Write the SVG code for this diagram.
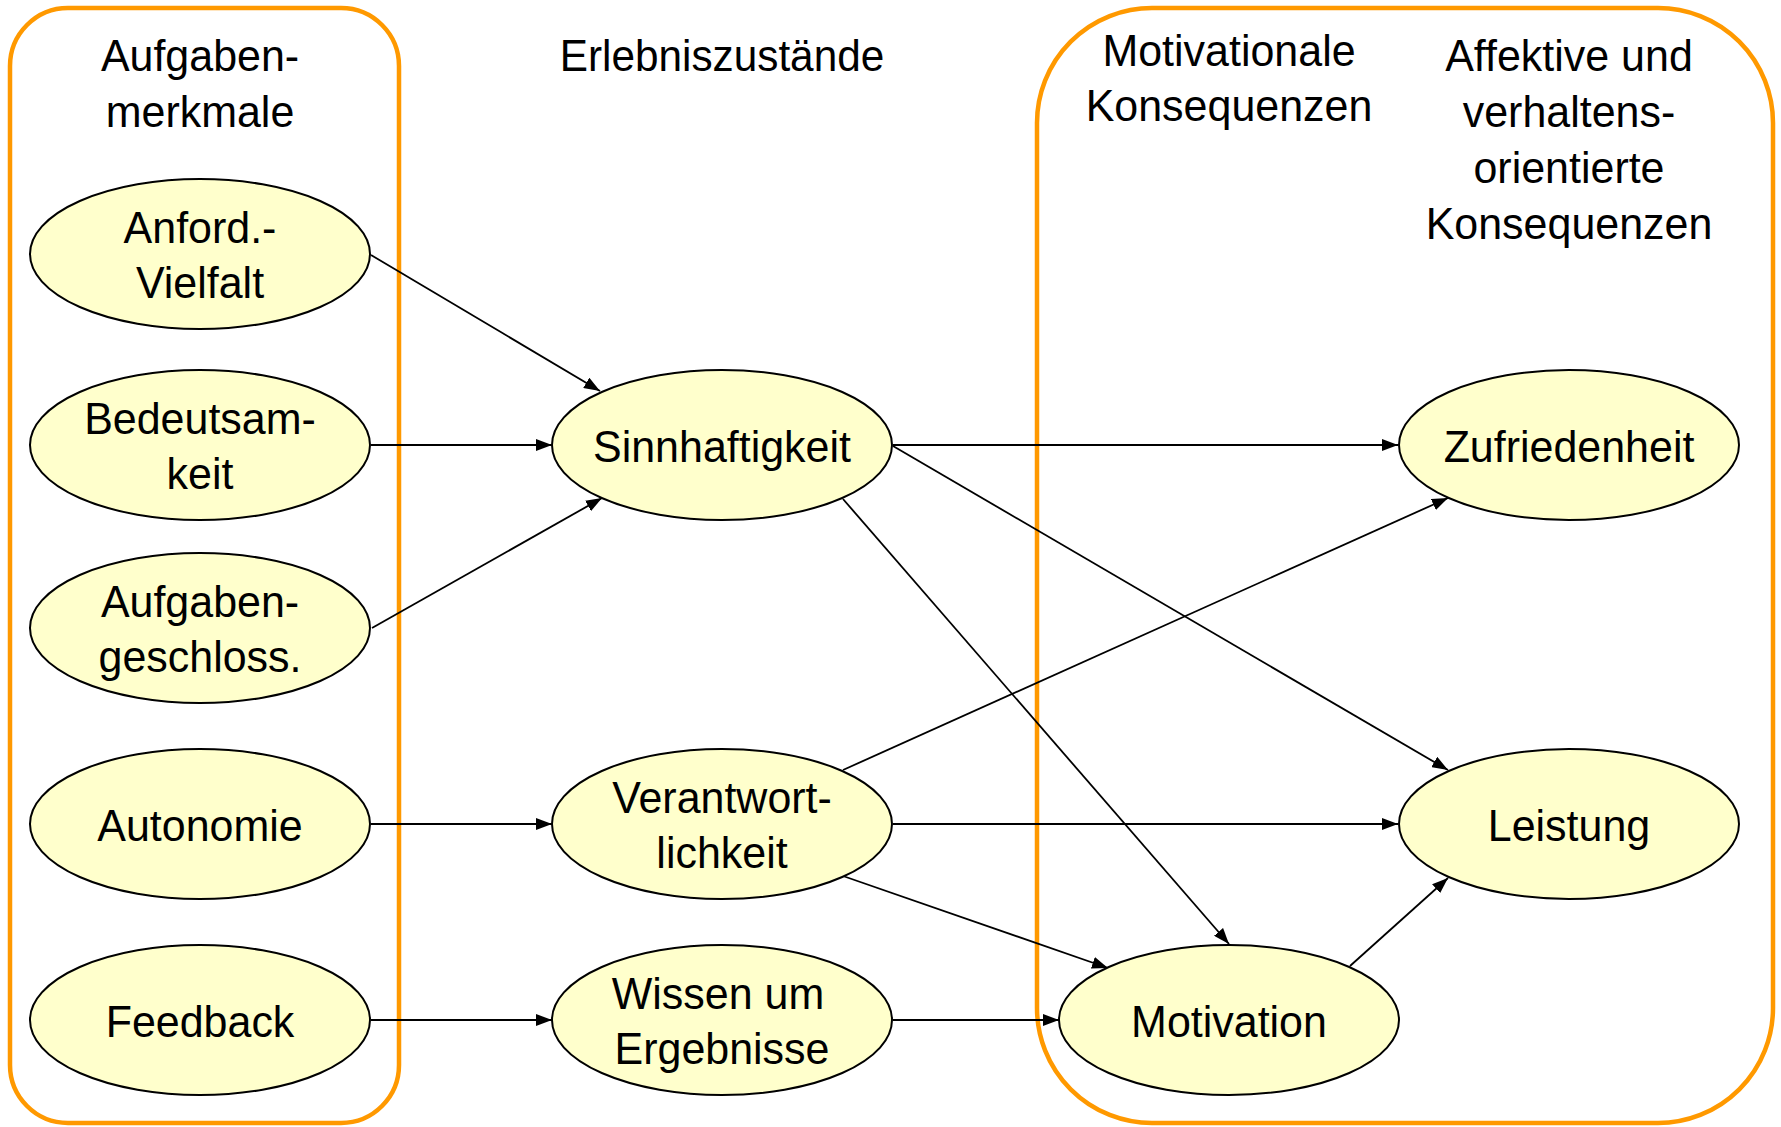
<svg xmlns="http://www.w3.org/2000/svg" width="1781" height="1127" viewBox="0 0 1781 1127">
<style>
.frame{fill:none;stroke:#FF9900;stroke-width:4.5}
.node ellipse{fill:#FFFFCC;stroke:#000;stroke-width:2}
text{font-family:"Liberation Sans",Arial,sans-serif;font-size:45px;fill:#000;text-anchor:middle}
.edge{stroke:#000;stroke-width:1.8;fill:none;marker-end:url(#ah)}
</style>
<defs>
<marker id="ah" markerUnits="userSpaceOnUse" markerWidth="16" markerHeight="12" refX="16" refY="6" orient="auto">
<path d="M0,0 L16,6 L0,12 z" fill="#000"/>
</marker>
</defs>
<rect width="1781" height="1127" fill="#fff"/>
<g id="frames">
<rect class="frame" x="10" y="8" width="389" height="1115" rx="58" ry="58"/>
<rect class="frame" x="1037" y="8" width="736" height="1115" rx="115" ry="115"/>
</g>
<g id="headers">
<text transform="translate(200,71) scale(0.955,1)">Aufgaben-</text>
<text transform="translate(200,127) scale(0.955,1)">merkmale</text>
<text transform="translate(722,71) scale(0.94,1)">Erlebniszustände</text>
<text transform="translate(1229,66) scale(0.955,1)">Motivationale</text>
<text transform="translate(1229,121) scale(0.955,1)">Konsequenzen</text>
<text transform="translate(1569,71) scale(0.955,1)">Affektive und</text>
<text transform="translate(1569,127) scale(0.955,1)">verhaltens-</text>
<text transform="translate(1569,183) scale(0.955,1)">orientierte</text>
<text transform="translate(1569,239) scale(0.955,1)">Konsequenzen</text>
</g>
<g id="connectors">
<line class="edge" x1="371" y1="255" x2="600" y2="391"/>
<line class="edge" x1="371" y1="445" x2="552" y2="445"/>
<line class="edge" x1="372" y1="628" x2="602" y2="498"/>
<line class="edge" x1="371" y1="824" x2="552" y2="824"/>
<line class="edge" x1="371" y1="1020" x2="552" y2="1020"/>
<line class="edge" x1="893" y1="445" x2="1398" y2="445"/>
<line class="edge" x1="893" y1="446" x2="1448" y2="770"/>
<line class="edge" x1="843" y1="499" x2="1229" y2="944"/>
<line class="edge" x1="843" y1="770" x2="1448" y2="498"/>
<line class="edge" x1="893" y1="824" x2="1398" y2="824"/>
<line class="edge" x1="843" y1="876" x2="1108" y2="968"/>
<line class="edge" x1="893" y1="1020" x2="1059" y2="1020"/>
<line class="edge" x1="1350" y1="966" x2="1448" y2="878"/>
</g>
<g id="n-anford" class="node"><ellipse cx="200" cy="254" rx="170" ry="75"/><text transform="translate(200,243) scale(0.955,1)">Anford.-</text><text transform="translate(200,298) scale(0.955,1)">Vielfalt</text></g>
<g id="n-bedeutsam" class="node"><ellipse cx="200" cy="445" rx="170" ry="75"/><text transform="translate(200,434) scale(0.955,1)">Bedeutsam-</text><text transform="translate(200,489) scale(0.955,1)">keit</text></g>
<g id="n-geschloss" class="node"><ellipse cx="200" cy="628" rx="170" ry="75"/><text transform="translate(200,617) scale(0.955,1)">Aufgaben-</text><text transform="translate(200,672) scale(0.955,1)">geschloss.</text></g>
<g id="n-autonomie" class="node"><ellipse cx="200" cy="824" rx="170" ry="75"/><text transform="translate(200,841) scale(0.955,1)">Autonomie</text></g>
<g id="n-feedback" class="node"><ellipse cx="200" cy="1020" rx="170" ry="75"/><text transform="translate(200,1037) scale(0.955,1)">Feedback</text></g>
<g id="n-sinn" class="node"><ellipse cx="722" cy="445" rx="170" ry="75"/><text transform="translate(722,462) scale(0.955,1)">Sinnhaftigkeit</text></g>
<g id="n-verant" class="node"><ellipse cx="722" cy="824" rx="170" ry="75"/><text transform="translate(722,813) scale(0.955,1)">Verantwort-</text><text transform="translate(722,868) scale(0.955,1)">lichkeit</text></g>
<g id="n-wissen" class="node"><ellipse cx="722" cy="1020" rx="170" ry="75"/><text transform="translate(718,1009) scale(0.955,1)">Wissen um</text><text transform="translate(722,1064) scale(0.955,1)">Ergebnisse</text></g>
<g id="n-zufrieden" class="node"><ellipse cx="1569" cy="445" rx="170" ry="75"/><text transform="translate(1569,462) scale(0.955,1)">Zufriedenheit</text></g>
<g id="n-leistung" class="node"><ellipse cx="1569" cy="824" rx="170" ry="75"/><text transform="translate(1569,841) scale(0.955,1)">Leistung</text></g>
<g id="n-motivation" class="node"><ellipse cx="1229" cy="1020" rx="170" ry="75"/><text transform="translate(1229,1037) scale(0.955,1)">Motivation</text></g>
</svg>
